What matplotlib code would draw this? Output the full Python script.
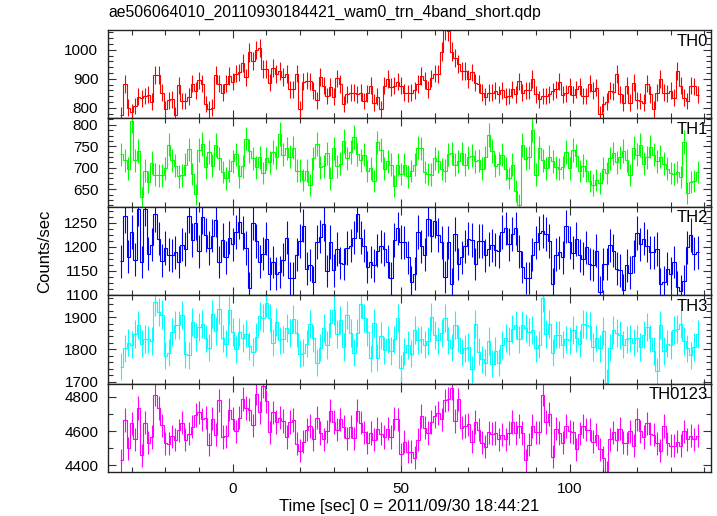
import numpy as np
import matplotlib
matplotlib.use("Agg")
import matplotlib.pyplot as plt
from matplotlib.ticker import MultipleLocator

plt.rcParams['font.family'] = ['Liberation Sans', 'DejaVu Sans']

# light curves, 1 s bins starting at t = -33.5 s
T_START = -33.5
BIN = 1.0

th0 = [775, 882, 801, 787, 807, 838, 833, 841, 845, 822,
       913, 913, 853, 795, 826, 830, 775, 878, 824, 824,
       838, 884, 859, 895, 884, 813, 795, 801, 914, 884,
       853, 884, 910, 890, 918, 922, 956, 905, 991, 962,
       999, 1006, 933, 933, 887, 936, 916, 928, 907, 916,
       864, 864, 918, 795, 890, 894, 891, 861, 826, 907,
       876, 841, 872, 838, 902, 882, 813, 847, 853, 853,
       847, 853, 824, 850, 876, 818, 838, 795, 876, 899,
       872, 876, 890, 876, 853, 850,
       853, 861, 882, 910, 895, 864, 902, 918, 916, 994,
       1068, 1063, 994, 971, 951, 928, 928, 899, 922, 887,
       882, 853, 838, 853, 853, 859, 847, 861, 838, 841,
       864, 847, 891, 853, 861, 861, 899, 847, 830, 841,
       841, 847, 857, 864, 890, 845, 850, 874, 845, 864,
       874, 841, 841, 884, 859, 870, 780, 813, 822,
       859, 855, 916, 847, 818, 876, 818, 887, 826, 824,
       818, 884, 847, 795, 853, 899, 853, 850, 859, 835,
       928, 876, 835, 824, 876, 874, 845]

th1 = [731, 718, 698, 810, 718, 739, 631, 693, 667, 712,
       684, 682, 682, 699, 754, 718, 705, 680, 682, 707,
       743, 686, 638, 741, 756, 701, 737, 705, 753, 722,
       690, 675, 693, 715, 731, 680, 703, 768, 739, 722,
       701, 724, 688, 722, 713, 737, 724, 779, 730, 745,
       726, 747, 693, 693, 672, 693, 659, 722, 756, 701,
       703, 734, 675, 745, 703, 709, 762, 722, 737, 772,
       731, 718, 730, 692, 699, 670, 759, 741, 698, 715,
       707, 657, 707, 686, 707, 680, 692, 707, 747, 745,
       690, 686, 684, 722, 715, 697, 693, 731, 734, 707,
       715, 734, 707, 724, 728, 715, 718, 698, 724, 776,
       739, 705, 709, 730, 698, 676, 707, 646, 614, 753,
       721, 724, 787, 684, 747, 718, 699, 726, 715, 701,
       697, 701, 737, 699, 741, 728, 692, 705, 693, 669,
       660, 672, 665, 698, 688, 722, 734, 713, 724, 739,
       718, 683, 747, 730, 753, 709, 724, 749, 730, 715,
       726, 709, 698, 688, 686, 690, 678, 760, 642, 667,
       669, 690]

th2 = [1170, 1264, 1179, 1231, 1173, 1279, 1168, 1279, 1185, 1204,
       1267, 1217, 1171, 1197, 1183, 1182, 1188, 1168, 1204, 1195,
       1264, 1214, 1249, 1190, 1262, 1224, 1197, 1223, 1255, 1168,
       1214, 1178, 1219, 1205, 1231, 1251, 1228, 1197, 1113, 1249,
       1212, 1169, 1185, 1217, 1144, 1168, 1144, 1147, 1173, 1219,
       1134, 1134, 1183, 1212, 1244, 1154, 1162, 1127, 1210, 1221,
       1247, 1149, 1210, 1151, 1195, 1166, 1164, 1197, 1202, 1219,
       1267, 1219, 1202, 1158, 1168, 1161, 1192, 1201, 1195, 1169,
       1134, 1214, 1238, 1210, 1209, 1178,
       1127, 1144, 1231, 1201, 1183, 1258, 1223, 1253, 1224, 1209,
       1137, 1209, 1123, 1226, 1164, 1178, 1201, 1217, 1214, 1164,
       1212, 1212, 1182, 1195, 1203, 1194, 1190, 1231, 1238, 1205,
       1226, 1238, 1190, 1158, 1135, 1135, 1183, 1209, 1228, 1233,
       1226, 1212, 1123, 1183, 1188, 1178, 1242, 1209, 1187, 1216,
       1182, 1175, 1199, 1164, 1162, 1192, 1105, 1164, 1164, 1203,
       1192, 1154, 1151, 1110, 1161, 1146, 1180, 1229, 1205, 1217,
       1202, 1188, 1188, 1195, 1123, 1127, 1154, 1144, 1168, 1116,
       1108, 1128, 1199, 1224, 1185, 1188]

th3 = [1747, 1803, 1821, 1815, 1848, 1875, 1818, 1833, 1831, 1826,
       1947, 1917, 1908, 1781, 1790, 1855, 1875, 1875, 1906, 1785,
       1782, 1886, 1839, 1869, 1880, 1834, 1805, 1910, 1857, 1924,
       1834, 1818, 1921, 1855, 1800, 1855, 1836, 1849, 1810, 1792,
       1839, 1903, 1896, 1944, 1898, 1821, 1886, 1828, 1831, 1865,
       1852, 1895, 1852, 1787, 1790, 1818, 1879, 1834, 1759, 1805,
       1867, 1813, 1882, 1921, 1848, 1891, 1807, 1906, 1852, 1790,
       1852, 1941, 1896, 1855, 1772, 1882, 1774, 1843, 1797, 1831,
       1795, 1831, 1898, 1741, 1793, 1813,
       1787, 1859, 1828, 1831, 1815, 1826, 1900, 1844, 1828, 1852,
       1898, 1828, 1805, 1875, 1834, 1790, 1803, 1807, 1738, 1879,
       1793, 1769, 1759, 1826, 1756, 1795, 1759, 1813, 1836, 1826,
       1862, 1877, 1831, 1877, 1867, 1855, 1859, 1803, 1815, 1960,
       1848, 1879, 1790, 1846, 1846, 1815, 1831, 1828, 1859, 1834,
       1818, 1879, 1877, 1872, 1807, 1834, 1803, 1857, 1697, 1805,
       1859, 1852, 1844, 1815, 1831, 1834, 1821, 1834, 1807, 1846,
       1869, 1834, 1795, 1733, 1875, 1795, 1818, 1813, 1859, 1862,
       1879, 1826, 1803, 1782, 1807, 1848]

th0123 = [4430, 4666, 4500, 4646, 4554, 4734, 4460, 4650, 4534, 4566,
          4814, 4734, 4634, 4530, 4526, 4570, 4550, 4606, 4650, 4550,
          4586, 4626, 4694, 4710, 4670, 4680, 4520, 4674, 4580, 4780,
          4566, 4570, 4726, 4674, 4600, 4680, 4790, 4734, 4726, 4634,
          4820, 4710, 4866, 4774, 4594, 4710, 4654, 4680, 4660, 4566,
          4654, 4666, 4526, 4486, 4540, 4610, 4630, 4554, 4680, 4590,
          4554, 4600, 4720, 4654, 4610, 4670, 4626, 4560, 4626, 4560,
          4720, 4650, 4594, 4534, 4590, 4550, 4614, 4586, 4566, 4614,
          4566, 4674, 4670, 4466, 4540, 4480,
          4480, 4446, 4550, 4690, 4620, 4590, 4654, 4686, 4706, 4670,
          4780, 4790, 4850, 4660, 4786, 4620, 4630, 4640, 4540, 4654,
          4610, 4534, 4510, 4594, 4586, 4590, 4554, 4580, 4554, 4590,
          4654, 4590, 4630, 4590, 4430, 4520, 4630, 4594, 4594, 4814,
          4654, 4700, 4450, 4614, 4590, 4534, 4630, 4600, 4594, 4494,
          4586, 4630, 4610, 4610, 4540, 4580, 4494, 4446, 4360, 4554,
          4594, 4550, 4614, 4534, 4530, 4600, 4514, 4670, 4600, 4566,
          4646, 4586, 4580, 4530, 4486, 4630, 4530, 4514, 4514, 4540,
          4514, 4600, 4554, 4574, 4554, 4574]

series = [th0, th1, th2, th3, th0123]
names = ['TH0', 'TH1', 'TH2', 'TH3', 'TH0123']
colors = ['#ff0000', '#00ff00', '#0000ff', '#00ffff', '#ff00ff']
ylims = [(764, 1068), (609, 815), (1099, 1283), (1694, 1968), (4362, 4878)]
ymajor = [100, 50, 50, 100, 200]
yminor = [20, 12.5, 12.5, 20, 100]

fig = plt.figure(figsize=(7.17, 5.16), dpi=100)
left, right = 108 / 717, 711 / 717
top, bottom = 1 - 30 / 516, 1 - 472 / 516
h = (top - bottom) / 5

axes = []
for i, (vals, name, c) in enumerate(zip(series, names, colors)):
    ax = fig.add_axes([left, top - (i + 1) * h, right - left, h],
                      sharex=axes[0] if axes else None)
    axes.append(ax)
    y = np.array(vals, dtype=float)
    edges = T_START + BIN * np.arange(len(y) + 1)
    t = edges[:-1] + BIN / 2
    err = np.sqrt(y)  # poisson error of 1 s bins
    ax.errorbar(t, y, yerr=err, fmt='none', ecolor=c, elinewidth=0.8)
    ax.stairs(y, edges, color=c, lw=0.8, baseline=None)
    ax.set_ylim(*ylims[i])
    ax.yaxis.set_major_locator(MultipleLocator(ymajor[i]))
    ax.yaxis.set_minor_locator(MultipleLocator(yminor[i]))
    ax.text(0.995, 0.96, name, transform=ax.transAxes, ha='right', va='top',
            fontsize=12)
    ax.tick_params(which='both', direction='in', top=True, right=True,
                   labelsize=11, colors='#333333', labelcolor='black')
    ax.tick_params(axis='y', which='major', pad=7)
    ax.tick_params(axis='x', which='major', pad=7)
    ax.tick_params(which='major', length=6, width=0.8)
    ax.tick_params(which='minor', length=3.5, width=0.8)
    for s in ax.spines.values():
        s.set_linewidth(1.0)
        s.set_color('#222222')
    if i < 4:
        ax.tick_params(labelbottom=False)

axes[0].set_xlim(-37, 142)
axes[0].xaxis.set_major_locator(MultipleLocator(50))
axes[0].xaxis.set_minor_locator(MultipleLocator(10))

fig.text(left, 1 - 12 / 516, 'ae506064010_20110930184421_wam0_trn_4band_short.qdp',
         ha='left', va='center', fontsize=11.3)
fig.text(45 / 717, (top + bottom) / 2, 'Counts/sec', rotation=90,
         ha='center', va='center', fontsize=12)
fig.text((left + right) / 2, 1 - 507 / 516, 'Time [sec] 0 = 2011/09/30 18:44:21',
         ha='center', va='center', fontsize=12)

fig.savefig('out.png', dpi=100)
